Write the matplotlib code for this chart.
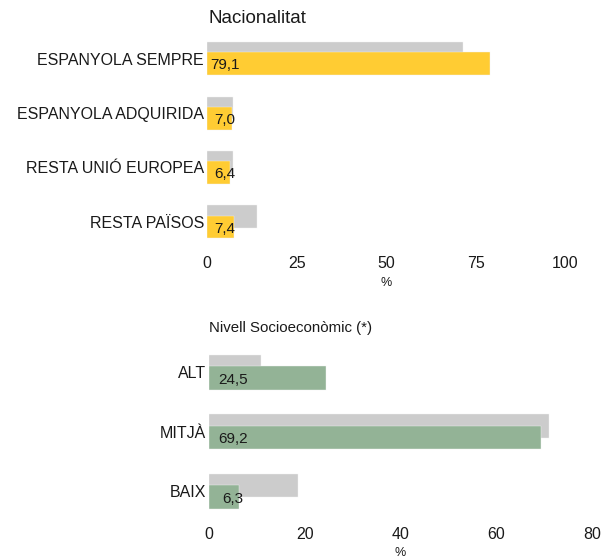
import matplotlib
matplotlib.use("Agg")
import matplotlib.pyplot as plt
import numpy as np

plt.rcParams["font.family"] = ["Liberation Sans", "DejaVu Sans"]

# Nacionalitat
nac_cats = ["ESPANYOLA SEMPRE", "ESPANYOLA ADQUIRIDA", "RESTA UNIÓ EUROPEA", "RESTA PAÏSOS"]
nac_ref = [71.6, 7.1, 7.3, 14.0]
nac_vals = [79.1, 7.0, 6.4, 7.4]
nac_ticks = [0, 25, 50, 75, 100]

# Nivell socioeconomic
nse_cats = ["ALT", "MITJÀ", "BAIX"]
nse_ref = [10.9, 71.0, 18.6]
nse_vals = [24.5, 69.2, 6.3]
nse_ticks = [0, 20, 40, 60, 80]

GREY = "#cccccc"
YELLOW = "#ffcc33"
GREEN = "#93b396"
TXT = "#1a1a1a"

W, H = 603, 558
fig = plt.figure(figsize=(W / 100, H / 100), dpi=100)


def px_axes(x0, x1, y0, y1):
    return fig.add_axes([x0 / W, 1 - y1 / H, (x1 - x0) / W, (y1 - y0) / H])


def draw_panel(ax, cats, ref, vals, color, ticks, xmax, ylim, bh, off):
    y = np.arange(len(cats))
    ax.barh(y - off, ref, height=bh, color=GREY, edgecolor="#f2f2f2", linewidth=0.3)
    ax.barh(y + off, vals, height=bh, color=color, edgecolor="#f2f2f2", linewidth=0.3)
    for yi, v in zip(y, vals):
        ax.text(5, yi + off + 0.03, f"{v:.1f}".replace(".", ","), ha="center", va="center",
                fontsize=11, color=TXT)
    ax.set_xlim(0, xmax)
    ax.set_ylim(*ylim)
    ax.set_yticks(y)
    ax.set_yticklabels(cats)
    ax.set_xticks(ticks)
    ax.tick_params(length=0, labelsize=11.5, labelcolor=TXT)
    ax.tick_params(axis="y", pad=2.4)
    ax.tick_params(axis="x", pad=4)
    for s in ax.spines.values():
        s.set_visible(False)
    ax.patch.set_alpha(0)


ax1 = px_axes(207.3, 565, 30, 250)
draw_panel(ax1, nac_cats, nac_ref, nac_vals, YELLOW, nac_ticks, 100,
           (3.517, -0.528), 0.417, 0.093)
fig.text(208 / W, 1 - 23.3 / H, "Nacionalitat", fontsize=13.5, color=TXT, va="baseline")
fig.text(386 / W, 1 - 283 / H, "%", fontsize=9, color=TXT, ha="center", va="center")

ax2 = px_axes(209, 592.3, 345, 521.6)
draw_panel(ax2, nse_cats, nse_ref, nse_vals, GREEN, nse_ticks, 80,
           (2.512, -0.463), 0.396, 0.097)
fig.text(209.3 / W, 1 - 331.7 / H, "Nivell Socioeconòmic (*)", fontsize=10.8, color=TXT,
         va="baseline")
fig.text(400 / W, 1 - 553 / H, "%", fontsize=9, color=TXT, ha="center", va="center")

fig.savefig("out.png", dpi=100)
